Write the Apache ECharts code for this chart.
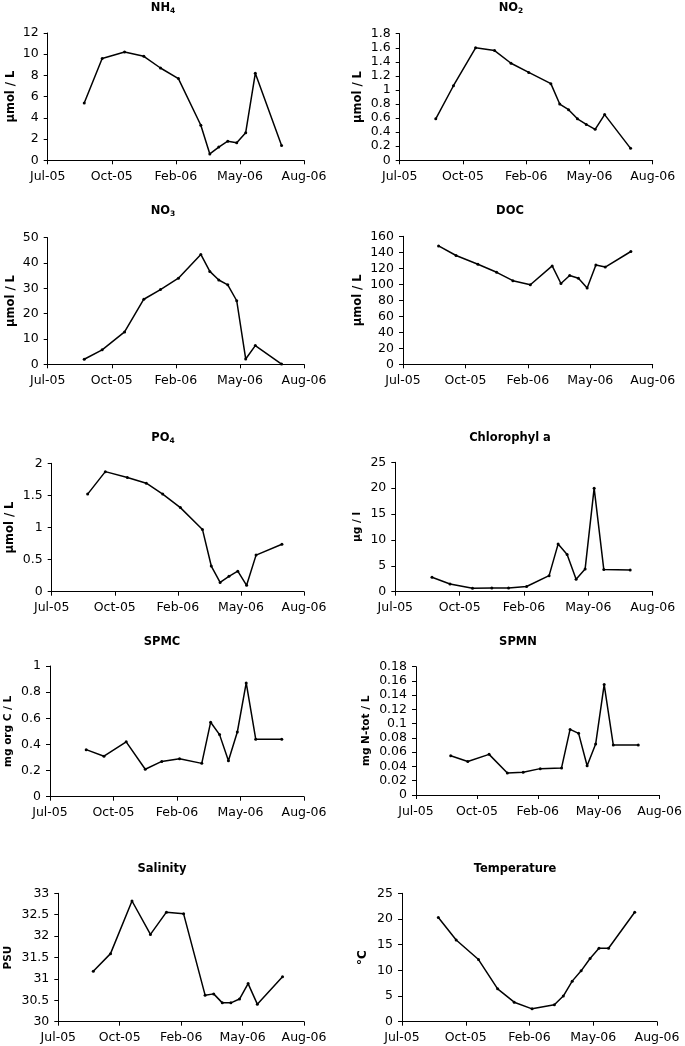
<!DOCTYPE html>
<html>
<head>
<meta charset="utf-8">
<script src="https://cdn.jsdelivr.net/npm/echarts@6/dist/echarts.min.js"></script>
<style>
html,body{margin:0;padding:0;background:#fff;}
#chart{width:685px;height:1046px;}
</style>
</head>
<body>
<div id="chart"></div>
<script>
// ---- data ----
const sampleDates = ['2005-09-16','2005-10-14','2005-11-18','2005-12-18','2006-01-13','2006-02-10','2006-03-17','2006-03-31','2006-04-14','2006-04-28','2006-05-12','2006-05-26','2006-06-10','2006-07-21'];
const xTickDates = ['2005-07-21','2005-10-29','2006-02-06','2006-05-17','2006-08-25'];
const xTickLabels = ['Jul-05','Oct-05','Feb-06','May-06','Aug-06'];

const nh4 = [5.4, 9.6, 10.2, 9.8, 8.7, 7.7, 3.3, 0.6, 1.25, 1.8, 1.65, 2.6, 8.2, 1.4];
const no2 = [0.59, 1.06, 1.6, 1.56, 1.38, 1.25, 1.09, 0.80, 0.72, 0.59, 0.51, 0.44, 0.65, 0.17];
const no3 = [2.0, 5.7, 12.8, 25.7, 29.5, 34.0, 43.4, 36.7, 33.3, 31.4, 25.1, 2.1, 7.4, 0.1];
const doc = [148, 136, 125, 115, 104.5, 99.5, 123, 101, 111, 107.5, 95.5, 124, 121.5, 141];
const po4 = [1.52, 1.87, 1.78, 1.69, 1.52, 1.31, 0.97, 0.40, 0.145, 0.24, 0.32, 0.10, 0.57, 0.74];
const chla = [2.8, 1.5, 0.65, 0.7, 0.7, 1.0, 3.1, 9.2, 7.2, 2.4, 4.4, 20.0, 4.3, 4.2];
const spmc = [0.36, 0.31, 0.42, 0.21, 0.27, 0.29, 0.255, 0.57, 0.475, 0.275, 0.495, 0.87, 0.44, 0.44];
const spmn = [0.055, 0.047, 0.057, 0.031, 0.032, 0.037, 0.038, 0.092, 0.0865, 0.041, 0.0715, 0.155, 0.070, 0.070];
const salinity = [31.18, 31.59, 32.82, 32.04, 32.56, 32.52, 30.62, 30.65, 30.44, 30.44, 30.53, 30.89, 30.41, 31.05];
const temperature = [20.3, 15.9, 12.1, 6.4, 3.8, 2.5, 3.3, 5.0, 7.9, 9.9, 12.3, 14.3, 14.3, 21.3];

const titles = [['NH','4'], ['NO','2'], ['NO','3'], ['DOC',''], ['PO','4'], ['Chlorophyl a',''], ['SPMC',''], ['SPMN',''], ['Salinity',''], ['Temperature','']];
const yNames = ['µmol / L','µmol / L','µmol / L','µmol / L','µmol / L','µg / l','mg org C / L','mg N-tot / L','PSU','°C'];
const yMin = [0, 0, 0, 0, 0, 0, 0, 0, 30, 0];
const yMax = [12, 1.8, 50, 160, 2, 25, 1, 0.18, 33, 25];
const yStep = [2, 0.2, 10, 20, 0.5, 5, 0.2, 0.02, 0.5, 5];
const seriesValues = [nh4, no2, no3, doc, po4, chla, spmc, spmn, salinity, temperature];

// ---- layout (pixels) ----
const panels = [
  {l: 47.7, r: 304, t: 33, b: 160.3, gap: 31, tx: 163, ty: 6, ns: 11.5},
  {l: 399.7, r: 652.7, t: 33.7, b: 160.3, gap: 36, tx: 511, ty: 6, ns: 11.5},
  {l: 47.7, r: 304, t: 237.7, b: 364.3, gap: 31, tx: 163, ty: 209, ns: 11.5},
  {l: 403, r: 652.7, t: 236.3, b: 364.3, gap: 39, tx: 510, ty: 209, ns: 11.5},
  {l: 51.7, r: 304, t: 463.3, b: 591.7, gap: 36, tx: 163, ty: 436, ns: 11.5},
  {l: 395.3, r: 652.7, t: 462.3, b: 591.7, gap: 33, tx: 510, ty: 436, ns: 10.5},
  {l: 50, r: 304, t: 666, b: 796.7, gap: 36, tx: 162, ty: 640, ns: 10.5},
  {l: 416, r: 662.7, t: 666.7, b: 795, gap: 44, tx: 518, ty: 640, ns: 10.5},
  {l: 58.3, r: 304, t: 893.3, b: 1021.7, gap: 45, tx: 162, ty: 867, ns: 10.5},
  {l: 402, r: 657, t: 893.3, b: 1021.7, gap: 33, tx: 515, ty: 867, ns: 12}
];

const FONT = '"DejaVu Sans", Verdana, sans-serif';
const DAY = 86400000;
const t0 = Date.parse(xTickDates[0]);
const dayOf = d => (Date.parse(d) - t0) / DAY;
const xTickDays = xTickDates.map(dayOf);
const xStep = xTickDays[1] - xTickDays[0];

const grid = [], xAxis = [], yAxis = [], series = [], graphic = [];
panels.forEach((p, i) => {
  grid.push({left: p.l, top: p.t, width: p.r - p.l, height: p.b - p.t, containLabel: false});
  xAxis.push({
    type: 'value', gridIndex: i, min: 0, max: xTickDays[xTickDays.length - 1], interval: xStep,
    axisLine: {show: true, onZero: false, lineStyle: {color: '#000', width: 1}},
    axisTick: {show: true, inside: false, length: 4, lineStyle: {color: '#000', width: 1}},
    splitLine: {show: false},
    axisLabel: {
      margin: 10, fontSize: 12.5, color: '#000', fontFamily: FONT,
      formatter: v => { const k = xTickDays.findIndex(d => Math.abs(d - v) < 0.5); return k >= 0 ? xTickLabels[k] : ''; }
    }
  });
  yAxis.push({
    type: 'value', gridIndex: i, min: yMin[i], max: yMax[i], interval: yStep[i],
    axisLine: {show: true, lineStyle: {color: '#000', width: 1}},
    axisTick: {show: true, inside: false, length: 4, lineStyle: {color: '#000', width: 1}},
    splitLine: {show: false},
    axisLabel: {margin: 9, fontSize: 12.5, color: '#000', fontFamily: FONT},
    name: yNames[i], nameLocation: 'middle', nameGap: p.gap,
    nameTextStyle: {fontSize: p.ns, fontWeight: 'bold', color: '#000', fontFamily: FONT}
  });
  series.push({
    type: 'line', xAxisIndex: i, yAxisIndex: i,
    data: sampleDates.map((d, j) => [dayOf(d), seriesValues[i][j]]),
    symbol: 'circle', symbolSize: 3, showSymbol: true,
    lineStyle: {color: '#000', width: 1.5}, itemStyle: {color: '#000'},
    silent: true
  });
  const [main, sub] = titles[i];
  graphic.push({
    type: 'text', x: p.tx, y: p.ty - 4, silent: true,
    style: {
      text: sub ? '{b|' + main + '}{s|' + sub + '}' : '{b|' + main + '}',
      align: 'center', verticalAlign: 'top',
      rich: {
        b: {fontSize: 11.5, fontWeight: 'bold', fontFamily: FONT, fill: '#000', lineHeight: 13, verticalAlign: 'top'},
        s: {fontSize: 7.5, fontWeight: 'bold', fontFamily: FONT, fill: '#000', lineHeight: 8, verticalAlign: 'bottom', padding: [7, 0, 0, 0]}
      }
    }
  });
});

const chart = echarts.init(document.getElementById('chart'), null, {renderer: 'canvas'});
chart.setOption({
  animation: false,
  backgroundColor: '#fff',
  grid, xAxis, yAxis, series, graphic
});
</script>
</body>
</html>
